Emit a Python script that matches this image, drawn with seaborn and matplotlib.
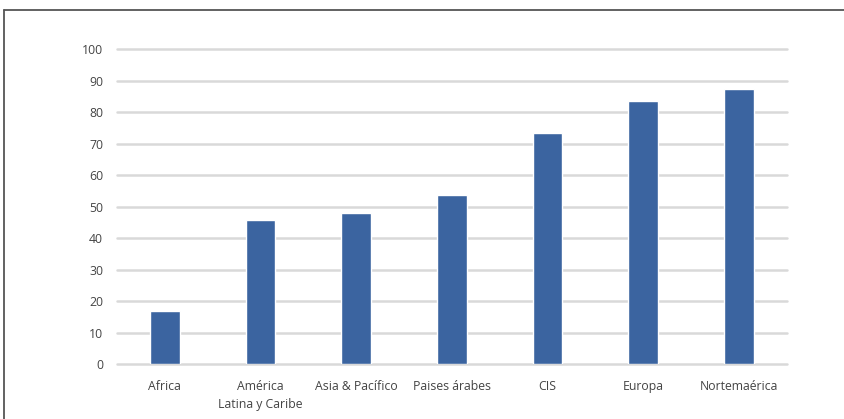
import matplotlib
matplotlib.use("Agg")
import matplotlib.pyplot as plt
from matplotlib.lines import Line2D
import seaborn as sns
import pandas as pd

regions = ["Africa", "América\nLatina y Caribe", "Asia & Pacífico", "Paises árabes",
           "CIS", "Europa", "Nortemaérica"]
values = [17.0, 45.8, 48.1, 53.7, 73.5, 83.7, 87.4]
y_ticks = [0, 10, 20, 30, 40, 50, 60, 70, 80, 90, 100]

sns.set_theme(style="white")
plt.rcParams["font.family"] = ["Open Sans", "DejaVu Sans"]

df = pd.DataFrame({"region": regions, "value": values})

W, H = 845, 419
fig = plt.figure(figsize=(W / 100, H / 100), dpi=100)
ax = fig.add_axes([117 / W, 1 - 364.3 / H, (786.7 - 117) / W, (364.3 - 49.3) / H])

ax.set_ylim(0, 100)
ax.set_yticks(y_ticks)
for t in y_ticks:
    ax.axhline(t, color="#d9d9d9", lw=1.8, zorder=0, clip_on=False)

sns.barplot(data=df, x="region", y="value", color="#3b64a0", width=0.31,
            saturation=1, ax=ax, zorder=2)
ax.set_xlim(-0.5, len(regions) - 0.5)

for s in ax.spines.values():
    s.set_visible(False)
ax.set_xlabel("")
ax.set_ylabel("")
ax.tick_params(axis="both", length=0, colors="#444444", labelsize=8.8)
ax.tick_params(axis="y", pad=10)
ax.tick_params(axis="x", pad=11)
for lab in ax.get_xticklabels():
    lab.set_linespacing(1.55)
    lab.set_verticalalignment("top")

# outer frame (top and left edges)
fig.add_artist(Line2D([4 / W, 1], [1 - 10 / H, 1 - 10 / H], color="#555555", lw=1.3,
                      transform=fig.transFigure))
fig.add_artist(Line2D([4 / W, 4 / W], [0, 1 - 10 / H], color="#555555", lw=1.3,
                      transform=fig.transFigure))

fig.savefig("out.png", dpi=100, facecolor="white")
